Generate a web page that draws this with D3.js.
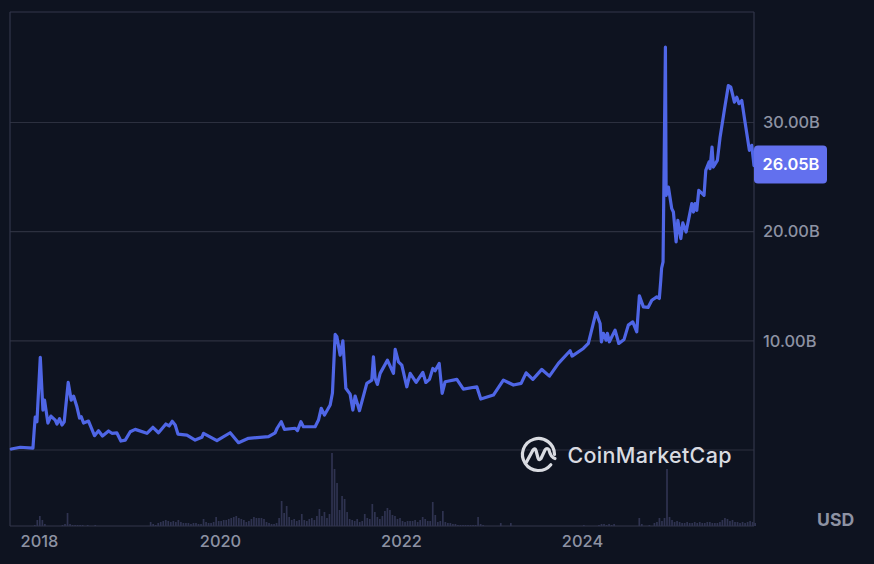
<!DOCTYPE html>
<html><head><meta charset="utf-8">
<script src="https://cdn.jsdelivr.net/npm/d3@7/dist/d3.min.js"></script>
<style>html,body{margin:0;padding:0;background:#0e1320;overflow:hidden}svg{display:block;font-family:Inter,"Noto Sans",sans-serif}</style>
</head><body><svg id="c" width="874" height="564"></svg>
<script>
const tickYears=[2018,2020,2022,2024];
const priceTicks=[0,10,20,30];
const priceLabels=[10,20,30];
const lastValue=26.05;
const years=[2017.686,2017.785,2017.925,2017.939,2017.950,2017.969,2018.006,2018.035,2018.053,2018.090,2018.123,2018.171,2018.190,2018.218,2018.245,2018.270,2018.314,2018.347,2018.373,2018.410,2018.439,2018.458,2018.483,2018.538,2018.604,2018.648,2018.692,2018.759,2018.796,2018.851,2018.895,2018.943,2018.998,2019.053,2019.182,2019.248,2019.310,2019.391,2019.428,2019.461,2019.494,2019.524,2019.623,2019.714,2019.788,2019.806,2019.954,2020.100,2020.192,2020.302,2020.523,2020.596,2020.618,2020.663,2020.699,2020.817,2020.842,2020.880,2020.908,2021.037,2021.074,2021.104,2021.140,2021.203,2021.228,2021.258,2021.277,2021.313,2021.343,2021.376,2021.423,2021.453,2021.478,2021.526,2021.607,2021.662,2021.680,2021.699,2021.724,2021.754,2021.834,2021.901,2021.920,2021.956,2021.993,2022.048,2022.085,2022.151,2022.225,2022.258,2022.298,2022.335,2022.360,2022.405,2022.438,2022.471,2022.600,2022.672,2022.820,2022.864,2023.003,2023.113,2023.224,2023.309,2023.364,2023.438,2023.537,2023.621,2023.720,2023.849,2023.871,2023.995,2024.050,2024.135,2024.180,2024.194,2024.216,2024.246,2024.260,2024.282,2024.345,2024.386,2024.444,2024.491,2024.540,2024.584,2024.613,2024.657,2024.709,2024.750,2024.805,2024.833,2024.849,2024.858,2024.874,2024.900,2024.908,2024.933,2024.970,2024.988,2025.018,2025.037,2025.070,2025.092,2025.128,2025.191,2025.209,2025.227,2025.246,2025.268,2025.326,2025.345,2025.381,2025.392,2025.414,2025.429,2025.473,2025.503,2025.558,2025.594,2025.621,2025.661,2025.687,2025.712,2025.742,2025.778,2025.826,2025.852,2025.877];
const marketCap=[0.09,0.25,0.18,1.83,3.02,2.59,8.48,3.66,4.57,2.47,3.11,2.74,2.38,2.86,2.29,2.59,6.19,4.57,4.94,3.96,2.93,3.05,2.47,2.65,1.31,1.77,1.28,1.74,1.53,1.56,0.82,0.91,1.67,1.89,1.53,2.08,1.58,2.38,2.20,2.63,2.29,1.46,1.37,0.91,1.16,1.53,0.85,1.58,0.67,1.07,1.22,1.58,1.99,2.59,1.89,1.99,1.77,2.59,2.13,2.13,2.74,3.82,3.20,4.12,5.22,10.59,10.37,8.69,10.00,5.65,5.12,3.66,4.94,3.60,6.10,6.40,8.54,6.56,6.01,7.02,8.23,7.02,9.21,8.08,7.78,5.79,7.02,6.19,7.11,6.19,6.47,7.47,7.26,7.93,5.19,6.25,6.47,5.58,5.79,4.67,5.03,6.40,5.95,6.10,7.07,6.47,7.38,6.77,7.93,9.09,8.60,9.30,9.76,12.60,11.59,9.91,10.68,10.06,10.68,9.91,10.98,9.76,10.13,11.44,11.74,10.82,14.12,13.11,13.06,13.72,14.03,13.88,15.55,16.65,17.23,36.90,23.33,24.09,22.11,21.80,19.06,21.04,19.37,20.80,19.97,22.57,21.80,22.57,21.96,23.79,23.33,25.62,26.38,25.77,27.75,25.92,26.53,28.66,31.56,33.39,33.24,31.87,32.32,31.72,32.02,30.04,27.45,27.91,26.05];
const volumeStart=2017.686, volumeStep=1/36;
const volumes=[
0,0,0,0,0,0,0,0,0,.1,
.6,1,.6,.2,0,0,0,0,0,0,
.1,.2,1.3,.2,.1,.1,.1,.1,.1,0,
.1,0,0,.1,0,0,0,0,0,0,
0,0,0,0,0,0,0,0,0,0,
0,0,0,0,0,.4,.2,.1,.3,.4,
.5,.6,.5,.4,.5,.4,.6,.4,.3,.3,
.3,.2,.3,.3,.2,.2,.7,.4,.3,.3,
.4,.9,.5,.5,.6,.6,.7,.8,.9,1,
.8,.7,.6,.4,.5,.7,.9,.8,.8,.8,
.7,.4,.3,.2,.2,.3,.8,2.5,1.3,2,
.9,.6,.7,.5,.6,1.2,.6,.5,.7,.8,
.6,1,1.7,1,1.4,.8,1.2,7.3,5.7,4.3,
1.6,3,2.7,1.4,.7,.6,.5,.7,.4,.5,
1.2,.8,.7,2.2,1.4,.9,.7,1,1.5,1.8,
1.6,1.1,1,.7,.8,.5,.4,.5,.5,.5,
.6,.4,.6,.9,.7,.5,.5,2.4,1.1,.4,
.5,1.5,.4,.3,.3,.2,.2,.1,.1,.1,
.1,.1,.1,.1,.1,.9,.2,.1,0,0,
0,0,0,0,.3,0,0,0,.3,0,
0,0,0,0,0,0,0,0,0,0,
0,0,0,0,0,0,0,0,0,0,
0,0,0,0,0,0,0,.1,0,0,
0,0,0,.1,.2,.2,.1,.2,.1,.2,
0,0,0,0,0,0,0,0,0,.8,
.2,0,0,.1,0,.3,.4,.8,.5,.8,
5.7,.9,.6,.4,.5,.4,.3,.3,.4,.3,
.3,.4,.3,.4,.3,.3,.4,.4,.3,.3,
.3,.4,.6,.8,.7,.5,.6,.4,.4,.3,
.4,.3,.4,.5,.4,.3];

const svg=d3.select("#c");
const L=10,R=754,T=12,B=526;
const x=d3.scaleLinear().domain([2017.672,2025.877]).range([L,R]);
const xLabels=d3.scaleLinear().domain([2018,2024]).range([39,582]);
const y=d3.scaleLinear().domain([0,30]).range([450,122.5]);
const v=d3.scaleLinear().domain([0,1]).range([B,B-10]);
const gridC="#2c303f", frameC="#32364a", textC="#8d92a3";

svg.append("g").selectAll("line").data(priceTicks).join("line")
 .attr("x1",L).attr("x2",R).attr("y1",d=>y(d)).attr("y2",d=>y(d)).attr("stroke",gridC).attr("stroke-width",1.2);
const frame=svg.append("g").attr("stroke",frameC).attr("stroke-width",1.2);
frame.append("line").attr("x1",L).attr("x2",R).attr("y1",T).attr("y2",T);
frame.append("line").attr("x1",L).attr("x2",R).attr("y1",B).attr("y2",B);
frame.append("line").attr("x1",L).attr("x2",L).attr("y1",T).attr("y2",B);
frame.append("line").attr("x1",R).attr("x2",R).attr("y1",T).attr("y2",B);

svg.append("g").selectAll("rect").data(volumes).join("rect")
 .attr("x",(d,i)=>x(volumeStart+i*volumeStep)).attr("width",1.7)
 .attr("y",d=>v(d)).attr("height",d=>B-v(d)).attr("fill","#2f3350");

const line=d3.line().x((d,i)=>x(years[i])).y(d=>y(d)).curve(d3.curveLinear);
svg.append("path").datum(marketCap).attr("d",line).attr("fill","none")
 .attr("stroke","#4f66e6").attr("stroke-width",3.2).attr("stroke-linejoin","round").attr("stroke-linecap","round");

// watermark
const logo=svg.append("g").attr("fill","none").attr("stroke","#d9dbe1").attr("stroke-width",3.2).attr("stroke-linecap","round").attr("stroke-linejoin","round");
logo.append("path").attr("d",d3.arc()({innerRadius:16,outerRadius:16,startAngle:Math.PI*0.72,endAngle:Math.PI*2.5})).attr("transform","translate(538.5,454.5)");
logo.append("path").attr("d","M526.5 462 L533 450 Q535 447.5 536 450.5 L538 458 Q539 461 541 458.5 L545 450 Q547 447 549 450 Q550.5 457 555 458.5");
svg.append("text").attr("x",567.5).attr("y",463).attr("fill","#d9dbe1").attr("font-size",21.5).attr("font-weight",500).attr("letter-spacing",0.3).text("CoinMarketCap");

// axes
const xAxis=svg.append("g").attr("transform",`translate(0,${B})`).call(d3.axisBottom(xLabels).tickValues(tickYears).tickFormat(d3.format("d")).tickSize(0).tickPadding(9));
xAxis.select(".domain").remove();
xAxis.selectAll("text").attr("font-size",16.4).attr("font-family","Inter").attr("fill",textC).attr("font-weight",500);
const yAxis=svg.append("g").attr("transform",`translate(${R},0)`).call(d3.axisRight(y).tickValues(priceLabels).tickFormat(d=>d.toFixed(2)+"B").tickSize(0).tickPadding(9));
yAxis.select(".domain").remove();
yAxis.selectAll("text").attr("font-size",16.4).attr("font-family","Inter").attr("fill",textC).attr("font-weight",500);

const badgeY=y(lastValue);
svg.append("rect").attr("x",R).attr("y",badgeY-20).attr("width",73).attr("height",38).attr("rx",4).attr("fill","#6270ee");
svg.append("text").attr("x",R+8.5).attr("y",badgeY-1).attr("dy","0.35em").attr("fill","#fff").attr("font-size",16.4).attr("font-weight",600).text(lastValue.toFixed(2)+"B");
svg.append("text").attr("x",817).attr("y",526).attr("fill",textC).attr("font-size",17.6).attr("font-weight",700).text("USD");
</script></body></html>
